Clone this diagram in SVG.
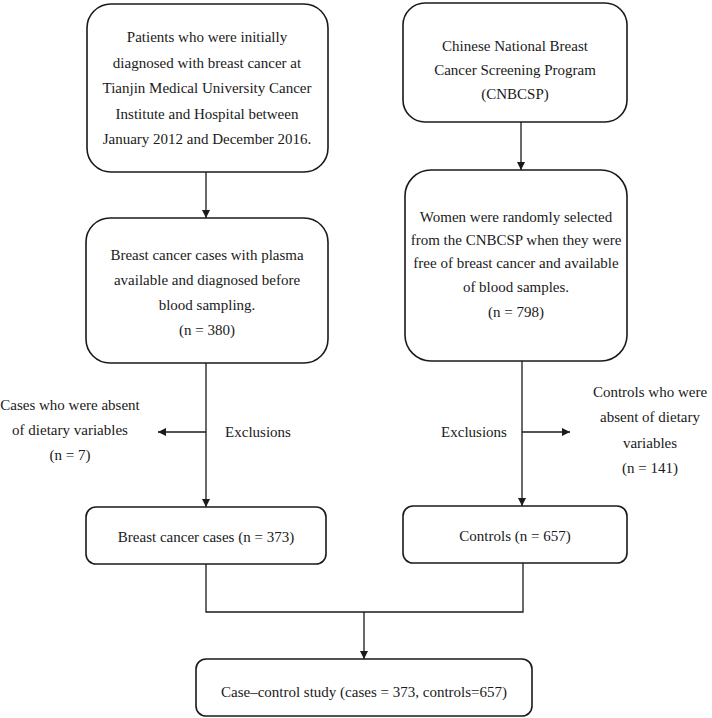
<svg xmlns="http://www.w3.org/2000/svg" width="712" height="718" viewBox="0 0 712 718">
<style>
.box{fill:#fff;stroke:#1a1a1a;stroke-width:1.6}
.ln{fill:none;stroke:#1a1a1a;stroke-width:1.3}
text{font-family:"Liberation Serif","Times New Roman",serif;font-size:15px;fill:#1a1a1a;text-anchor:middle}
</style>
<defs>
<marker id="ah" viewBox="0 0 10 10" refX="10" refY="5" markerWidth="8" markerHeight="8" markerUnits="userSpaceOnUse" orient="auto"><path d="M0,0 L10,5 L0,10 z" fill="#1a1a1a"/></marker>
</defs>
<g id="connectors">
<line class="ln" x1="206" y1="172" x2="206" y2="218" marker-end="url(#ah)"/>
<line class="ln" x1="521" y1="122" x2="521" y2="170" marker-end="url(#ah)"/>
<line class="ln" x1="206" y1="363" x2="206" y2="507" marker-end="url(#ah)"/>
<line class="ln" x1="206" y1="432" x2="158" y2="432" marker-end="url(#ah)"/>
<line class="ln" x1="522" y1="361" x2="522" y2="506" marker-end="url(#ah)"/>
<line class="ln" x1="522" y1="432" x2="570" y2="432" marker-end="url(#ah)"/>
<polyline class="ln" points="206,564 206,612 523,612 523,563"/>
<line class="ln" x1="364" y1="612" x2="364" y2="659" marker-end="url(#ah)"/>
</g>
<g id="n1">
<rect class="box" x="87" y="4" width="241" height="168" rx="24"/>
<text x="207" y="42">Patients who were initially</text>
<text x="207" y="67.5">diagnosed with breast cancer at</text>
<text x="207" y="93">Tianjin Medical University Cancer</text>
<text x="207" y="118.5">Institute and Hospital between</text>
<text x="207" y="144">January 2012 and December 2016.</text>
</g>
<g id="n2">
<rect class="box" x="403" y="3" width="224" height="119" rx="22"/>
<text x="515" y="51">Chinese National Breast</text>
<text x="515" y="75">Cancer Screening Program</text>
<text x="515" y="99">(CNBCSP)</text>
</g>
<g id="n3">
<rect class="box" x="86" y="218" width="242" height="145" rx="24"/>
<text x="207" y="260">Breast cancer cases with plasma</text>
<text x="207" y="285">available and diagnosed before</text>
<text x="207" y="310">blood sampling.</text>
<text x="207" y="335">(n = 380)</text>
</g>
<g id="n4">
<rect class="box" x="405" y="170" width="222" height="191" rx="26"/>
<text x="516" y="222">Women were randomly selected</text>
<text x="516" y="245">from the CNBCSP when they were</text>
<text x="516" y="268">free of breast cancer and available</text>
<text x="516" y="292">of blood samples.</text>
<text x="516" y="317">(n = 798)</text>
</g>
<g id="ex1">
<text x="70" y="410">Cases who were absent</text>
<text x="70" y="435">of dietary variables</text>
<text x="70" y="460">(n = 7)</text>
<text x="258" y="437">Exclusions</text>
</g>
<g id="ex2">
<text x="474" y="437">Exclusions</text>
<text x="650" y="397">Controls who were</text>
<text x="650" y="422">absent of dietary</text>
<text x="650" y="448">variables</text>
<text x="650" y="473">(n = 141)</text>
</g>
<g id="n5">
<rect class="box" x="86" y="507" width="240" height="57" rx="10"/>
<text x="206" y="542">Breast cancer cases (n = 373)</text>
</g>
<g id="n6">
<rect class="box" x="403" y="506" width="224" height="57" rx="10"/>
<text x="515" y="541">Controls (n = 657)</text>
</g>
<g id="n7">
<rect class="box" x="196" y="659" width="336" height="57" rx="10"/>
<text x="364" y="697">Case–control study (cases = 373, controls=657)</text>
</g>
</svg>
